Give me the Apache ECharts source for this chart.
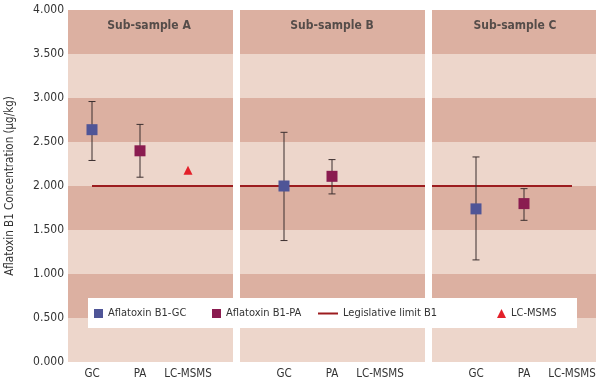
<!DOCTYPE html>
<html><head><meta charset="utf-8">
<script src="https://cdn.jsdelivr.net/npm/echarts@6/dist/echarts.min.js"></script>
<style>html,body{margin:0;padding:0;background:#fff}#c{width:600px;height:387px}</style>
</head><body><div id="c"></div>
<script>
// ---- data ----
var categories = ['A-GC','A-PA','A-LC','gap1','B-GC','B-PA','B-LC','gap2','C-GC','C-PA','C-LC'];
var categoryLabels = ['GC','PA','LC-MSMS','','GC','PA','LC-MSMS','','GC','PA','LC-MSMS'];
var gcMean = [[0,2.64],[4,2.00],[8,1.74]];
var gcLow  = [2.29, 1.38, 1.16];
var gcHigh = [2.96, 2.61, 2.33];
var paMean = [[1,2.40],[5,2.11],[9,1.80]];
var paLow  = [2.10, 1.91, 1.61];
var paHigh = [2.70, 2.30, 1.97];
var lcmsms = [[2,2.18]];
var legislativeLimit = [[0,2.0],[10,2.0]];
var panelTitles = [[1,3.82,'Sub-sample A'],[5,3.82,'Sub-sample B'],[9,3.82,'Sub-sample C']];
var panelDividers = [3,7];
var yTicks = {min:0, max:4, interval:0.5};

var FONT = '"DejaVu Sans Condensed","Liberation Sans Narrow",sans-serif';
var titleOffsets = [[9,0],[0,0],[-9,0]];
function errData(mean, low, high){
  return mean.map(function(m,i){return [m[0], low[i], high[i]];});
}
function errSeries(mean, low, high){
  return {
    type:'custom', z:3, silent:true,
    data: errData(mean, low, high),
    renderItem: function(params, api){
      var x = api.value(0);
      var p1 = api.coord([x, api.value(1)]);
      var p2 = api.coord([x, api.value(2)]);
      var w = 3.5;
      var st = {stroke:'#3b2f2f', lineWidth:1};
      return {type:'group', children:[
        {type:'line', shape:{x1:p1[0],y1:p1[1],x2:p2[0],y2:p2[1]}, style:st},
        {type:'line', shape:{x1:p1[0]-w,y1:p1[1],x2:p1[0]+w,y2:p1[1]}, style:st},
        {type:'line', shape:{x1:p2[0]-w,y1:p2[1],x2:p2[0]+w,y2:p2[1]}, style:st}
      ]};
    }
  };
}
var chart = echarts.init(document.getElementById('c'));
var legendBase = {top:308, padding:0, itemHeight:9, itemWidth:9, itemGap:5, textStyle:{fontFamily:FONT, fontSize:11, color:'#333'}, selectedMode:false, z:10};
chart.setOption({
  animation:false,
  textStyle:{fontFamily:FONT},
  grid:{left:68, right:4, top:10, bottom:25, outerBoundsMode:'none', containLabel:false},
  xAxis:{type:'category', data:categories, boundaryGap:true,
    axisLine:{show:false}, axisTick:{show:false}, splitLine:{show:false},
    axisLabel:{margin:6, fontSize:11.5, color:'#333', fontFamily:FONT, interval:0,
      formatter:function(v, i){return categoryLabels[i];}}},
  yAxis:{type:'value', min:yTicks.min, max:yTicks.max, interval:yTicks.interval,
    name:'Aflatoxin B1 Concentration (µg/kg)', nameLocation:'middle', nameGap:52,
    nameTextStyle:{fontSize:11.5, color:'#333', fontFamily:FONT},
    axisLine:{show:false}, axisTick:{show:false}, splitLine:{show:false},
    splitArea:{show:true, areaStyle:{color:['#edd6cb','#dcb0a1']}},
    axisLabel:{margin:4, fontSize:12, color:'#333', fontFamily:FONT,
      formatter:function(v){return v.toFixed(3);}}},
  legend:[
    Object.assign({}, legendBase, {left:94, data:[{name:'Aflatoxin B1-GC', icon:'rect'}]}),
    Object.assign({}, legendBase, {left:212, data:[{name:'Aflatoxin B1-PA', icon:'rect'}]}),
    Object.assign({}, legendBase, {left:318, itemWidth:20, itemHeight:2, data:[{name:'Legislative limit B1', icon:'rect'}]}),
    Object.assign({}, legendBase, {left:497, data:[{name:'LC-MSMS', icon:'triangle'}]})
  ],
  graphic:[{type:'rect', z:5, shape:{x:88, y:298, width:489, height:30}, style:{fill:'#fff'}}],
  series:[
    {type:'line', name:'dividers', data:[], silent:true,
      markLine:{silent:true, symbol:'none', label:{show:false},
        lineStyle:{color:'#fff', width:7, type:'solid'},
        data:panelDividers.map(function(d){return {xAxis:d};})}},
    {type:'line', name:'Legislative limit B1', data:legislativeLimit, symbol:'none', z:2,
      lineStyle:{color:'#9c1c1f', width:2}, itemStyle:{color:'#9c1c1f'}},
    errSeries(gcMean, gcLow, gcHigh),
    errSeries(paMean, paLow, paHigh),
    {type:'scatter', name:'Aflatoxin B1-GC', data:gcMean, symbol:'rect', symbolSize:11, z:4,
      itemStyle:{color:'#4f5597', opacity:1}},
    {type:'scatter', name:'Aflatoxin B1-PA', data:paMean, symbol:'rect', symbolSize:11, z:4,
      itemStyle:{color:'#8a1c50', opacity:1}},
    {type:'scatter', name:'LC-MSMS', data:lcmsms, symbol:'triangle', symbolSize:9, z:4,
      itemStyle:{color:'#e3202a', opacity:1}},
    {type:'scatter', name:'titles', symbolSize:0, silent:true,
      data: panelTitles.map(function(t, i){
        return {value:t, label:{offset:titleOffsets[i]}};
      }),
      label:{show:true, position:'inside', fontWeight:'bold', fontSize:12, color:'#333', fontFamily:FONT,
        formatter:function(p){return p.value[2];}}}
  ]
});
</script></body></html>
